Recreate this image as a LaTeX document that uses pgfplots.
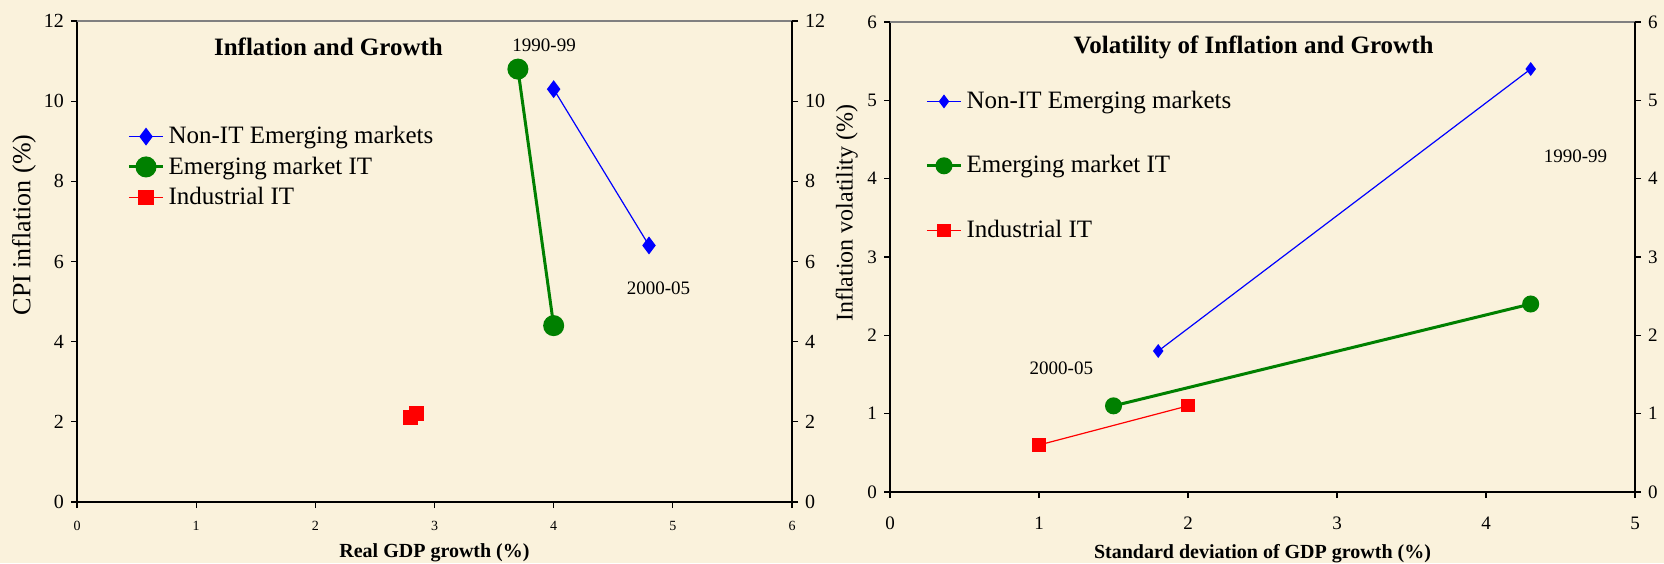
\documentclass[border=0pt]{standalone}
\usepackage{pgfplots}
\pgfplotsset{compat=1.18}
\usepackage{fontspec}
\setmainfont{Liberation Serif}
\definecolor{bg}{RGB}{250,242,220}
\definecolor{mgreen}{RGB}{0,128,0}
\begin{document}
\begin{tikzpicture}
\fill[bg] (0,0) rectangle (832pt,281.5pt);
% ---------------- Left panel ----------------
\begin{axis}[
  at={(38.5pt,30.5pt)}, anchor=south west,
  scale only axis, width=357.5pt, height=240.5pt,
  xmin=0, xmax=6, ymin=0, ymax=12,
  xtick={0,1,...,6}, ytick={0,2,...,12},
  xtick pos=bottom, ytick pos=left,
  tick align=outside, major tick length=3pt,
  axis line style={black, line width=0.8pt},
  tick style={black, line width=0.6pt},
  /pgf/number format/assume math mode=true,
  xticklabel style={font=\fontsize{7}{8}\selectfont, yshift=-3pt},
  yticklabel style={font=\fontsize{10}{12}\selectfont},
  xlabel={\textbf{Real GDP growth (\%)}},
  xlabel style={font=\fontsize{10}{12}\selectfont, at={(axis description cs:0.5,0)}, anchor=center, yshift=-25.5pt},
  ylabel={CPI inflation (\%)},
  ylabel style={font=\fontsize{13}{15}\selectfont, at={(axis description cs:-0.074,0.576)}, anchor=center},
  legend style={at={(axis description cs:0.07,0.79)}, anchor=north west, draw=none, fill=none,
    font=\fontsize{12.5}{14}\selectfont, inner sep=0pt, row sep=1pt},
  legend cell align=left,
  clip=false,
]
\addplot[blue, line width=0.6pt, mark=diamond*, mark size=4pt] coordinates {(4.0,10.3) (4.8,6.4)};
\addlegendentry{Non-IT Emerging markets}
\addplot[mgreen, line width=1.5pt, mark=*, mark size=4.5pt] coordinates {(3.7,10.8) (4.0,4.4)};
\addlegendentry{Emerging market IT}
\addplot[red, line width=0.6pt, mark=square*, mark size=3.5pt] coordinates {(2.8,2.1) (2.85,2.2)};
\addlegendentry{Industrial IT}
\draw[gray, line width=0.8pt] (rel axis cs:0,1) -- (rel axis cs:1,1);
\node[font=\bfseries\fontsize{12.5}{14}\selectfont] at (axis cs:2.11,11.35) {Inflation and Growth};
\node[font=\fontsize{9.5}{11}\selectfont] at (axis cs:3.92,11.4) {1990-99};
\node[font=\fontsize{9.5}{11}\selectfont] at (axis cs:4.88,5.34) {2000-05};
\end{axis}
\begin{axis}[
  at={(38.5pt,30.5pt)}, anchor=south west,
  scale only axis, width=357.5pt, height=240.5pt,
  xmin=0, xmax=6, ymin=0, ymax=12,
  axis x line=none, axis y line*=right,
  ytick={0,2,...,12},
  tick align=outside, major tick length=3pt,
  axis line style={black, line width=0.8pt},
  tick style={black, line width=0.6pt},
  /pgf/number format/assume math mode=true,
  yticklabel style={font=\fontsize{10}{12}\selectfont},
]
\end{axis}
% ---------------- Right panel ----------------
\begin{axis}[
  at={(445pt,35.5pt)}, anchor=south west,
  scale only axis, width=372.5pt, height=235pt,
  xmin=0, xmax=5, ymin=0, ymax=6,
  xtick={0,1,...,5}, ytick={0,1,...,6},
  xtick pos=bottom, ytick pos=left,
  tick align=outside, major tick length=3pt,
  axis line style={black, line width=0.8pt},
  tick style={black, line width=0.6pt},
  /pgf/number format/assume math mode=true,
  xticklabel style={font=\fontsize{9.5}{11}\selectfont, yshift=-6pt},
  yticklabel style={font=\fontsize{9.5}{11}\selectfont},
  xlabel={\textbf{Standard deviation of GDP growth (\%)}},
  xlabel style={font=\fontsize{10}{12}\selectfont, at={(axis description cs:0.5,0)}, anchor=center, yshift=-31pt},
  ylabel={Inflation volatility (\%)},
  ylabel style={font=\fontsize{12}{14}\selectfont, at={(axis description cs:-0.058,0.593)}, anchor=center},
  legend style={at={(axis description cs:0.047,0.862)}, anchor=north west, draw=none, fill=none,
    font=\fontsize{12.5}{14}\selectfont, inner sep=0pt, row sep=18pt},
  legend cell align=left,
  clip=false,
]
\addplot[blue, line width=0.6pt, mark=diamond*, mark size=3pt] coordinates {(1.8,1.8) (4.3,5.4)};
\addlegendentry{Non-IT Emerging markets}
\addplot[mgreen, line width=1.5pt, mark=*, mark size=3.5pt] coordinates {(1.5,1.1) (4.3,2.4)};
\addlegendentry{Emerging market IT}
\addplot[red, line width=0.6pt, mark=square*, mark size=3pt] coordinates {(1.0,0.6) (2.0,1.1)};
\addlegendentry{Industrial IT}
\draw[gray, line width=0.8pt] (rel axis cs:0,1) -- (rel axis cs:1,1);
\node[font=\bfseries\fontsize{12.5}{14}\selectfont] at (axis cs:2.44,5.67) {Volatility of Inflation and Growth};
\node[font=\fontsize{9.5}{11}\selectfont] at (axis cs:4.6,4.29) {1990-99};
\node[font=\fontsize{9.5}{11}\selectfont] at (axis cs:1.15,1.58) {2000-05};
\end{axis}
\begin{axis}[
  at={(445pt,35.5pt)}, anchor=south west,
  scale only axis, width=372.5pt, height=235pt,
  xmin=0, xmax=5, ymin=0, ymax=6,
  axis x line=none, axis y line*=right,
  ytick={0,1,...,6},
  tick align=outside, major tick length=3pt,
  axis line style={black, line width=0.8pt},
  tick style={black, line width=0.6pt},
  /pgf/number format/assume math mode=true,
  yticklabel style={font=\fontsize{9.5}{11}\selectfont},
]
\end{axis}
\pgfresetboundingbox
\path (0,0) rectangle (832pt,281.5pt);
\end{tikzpicture}
\end{document}
